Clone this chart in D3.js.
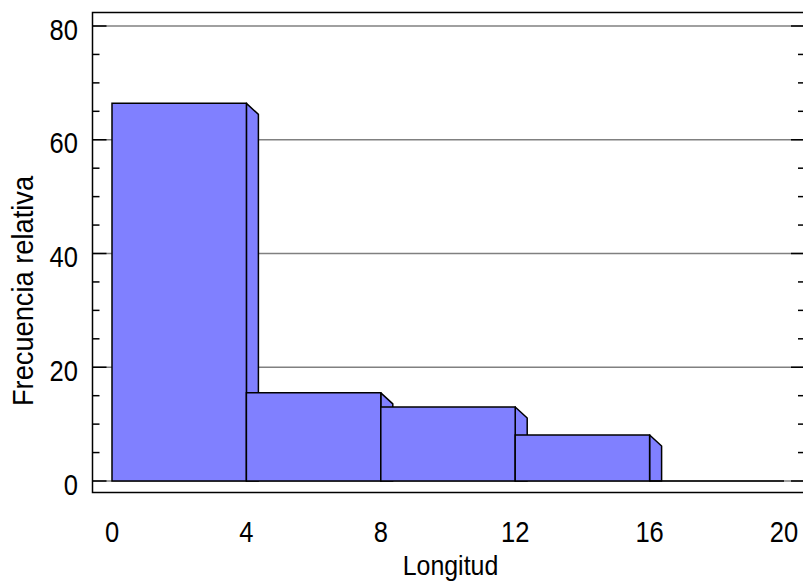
<!DOCTYPE html>
<html><head><meta charset="utf-8">
<script src="https://cdn.jsdelivr.net/npm/d3@7"></script>
<style>body{margin:0;background:#fff}svg{display:block}text{font-family:"Liberation Sans",Arial,sans-serif;fill:#000}</style>
</head><body>
<script>
const binStarts = [0, 4, 8, 12, 16];
const binWidth = 4;
const freqValues = [66.4, 15.5, 13.0, 8.1, 0];
const xTicks = [0, 4, 8, 12, 16, 20];
const yTicks = [0, 20, 40, 60, 80];
const yMinor = [5, 10, 15, 25, 30, 35, 45, 50, 55, 65, 70, 75];

const W = 803, H = 581;
const svg = d3.select("body").append("svg").attr("width", W).attr("height", H);
const x = d3.scaleLinear().domain([0, 20]).range([112, 784]);
const y = d3.scaleLinear().domain([0, 80]).range([481, 26]);
const frame = {l: 92.5, r: 805, t: 12.5, b: 492.5};
const dx = 12, dy = 11;

// gridlines
svg.append("g").selectAll("line").data(yTicks).join("line")
  .attr("x1", frame.l).attr("x2", frame.r)
  .attr("y1", d => y(d)).attr("y2", d => y(d))
  .attr("stroke", "#808080").attr("stroke-width", 1.5);

// bars
const g = svg.append("g");
binStarts.forEach((s, i) => {
  const v = freqValues[i];
  const x0 = x(s), x1 = x(s + binWidth), top = y(v), base = y(0);
  if (v > 0) {
    const st = Math.min(top + dy, base);
    g.append("path")
      .attr("d", `M${x1},${top}L${x1 + dx},${st}L${x1 + dx},${base}L${x1},${base}Z`)
      .attr("fill", "#8080ff").attr("stroke", "#000").attr("stroke-width", 1.5).attr("stroke-linejoin", "round");
  }
  g.append("path")
    .attr("d", `M${x0},${top}L${x1},${top}L${x1},${base}L${x0},${base}Z`)
    .attr("fill", "#8080ff").attr("stroke", "#000").attr("stroke-width", 1.5);
});

// frame
svg.append("rect").attr("x", frame.l).attr("y", frame.t)
  .attr("width", frame.r - frame.l).attr("height", frame.b - frame.t)
  .attr("fill", "none").attr("stroke", "#000").attr("stroke-width", 1.5);

// y ticks (inward, both sides)
const tk = svg.append("g").attr("stroke", "#000").attr("stroke-width", 1.5);
yTicks.forEach(d => {
  tk.append("line").attr("x1", frame.l).attr("x2", frame.l + 14).attr("y1", y(d)).attr("y2", y(d));
  tk.append("line").attr("x1", frame.r).attr("x2", frame.r - 14).attr("y1", y(d)).attr("y2", y(d));
});
yMinor.forEach(d => {
  tk.append("line").attr("x1", frame.l).attr("x2", frame.l + 7).attr("y1", y(d)).attr("y2", y(d));
  tk.append("line").attr("x1", frame.r).attr("x2", frame.r - 7).attr("y1", y(d)).attr("y2", y(d));
});

// tick labels (slightly condensed)
const sx = 0.88;
svg.append("g").selectAll("text").data(yTicks).join("text")
  .attr("transform", d => `translate(78,${y(d) + 13.5}) scale(${sx},1)`)
  .attr("text-anchor", "end").attr("font-size", 29).text(d => d);
svg.append("g").selectAll("text").data(xTicks).join("text")
  .attr("transform", d => `translate(${x(d)},541.5) scale(${sx},1)`)
  .attr("text-anchor", "middle").attr("font-size", 29).text(d => d);

// axis titles
svg.append("text").attr("transform", "translate(450.5,574.5) scale(0.89,1)").attr("text-anchor", "middle")
  .attr("font-size", 28).text("Longitud");
svg.append("text").attr("transform", "translate(33,291) rotate(-90) scale(0.94,1)").attr("text-anchor", "middle")
  .attr("font-size", 29).text("Frecuencia relativa");
</script>
</body></html>
